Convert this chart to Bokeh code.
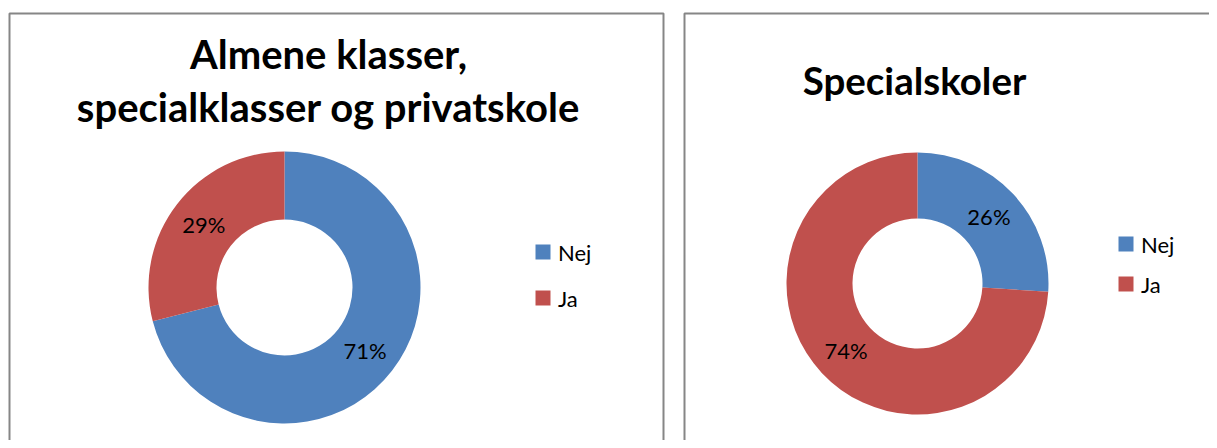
import numpy as np
from bokeh.plotting import figure
from bokeh.models import Range1d
from bokeh.core.properties import value
from bokeh.embed import file_html
from bokeh.resources import INLINE

# ---- data ----
categories = ["Nej", "Ja"]
left_values = [71, 29]
right_values = [26, 74]
colors = ["#4F81BD", "#C0504D"]
left_title = ["Almene klasser,", "specialklasser og privatskole"]
right_title = ["Specialskoler"]

FONT = "Lato"

# data x = picture x, data y = -picture y
p = figure(width=1209, height=440, x_range=Range1d(0, 1209), y_range=Range1d(-440, 0),
           output_backend="svg", toolbar_location=None, x_axis_type=None, y_axis_type=None,
           min_border=0, outline_line_color=None)
p.grid.visible = False
p.background_fill_color = "white"
p.border_fill_color = "white"

# panel borders
p.quad(left=[9, 684], right=[663, 1260], top=[-13, -13], bottom=[-480, -480],
       fill_color=None, line_color="#868686", line_width=2)


def donut(cx, cy, r_out, r_in, vals):
    fr = np.array(vals, dtype=float) / sum(vals)
    cum = np.concatenate([[0.0], np.cumsum(fr)])
    start = np.pi / 2 - 2 * np.pi * cum[:-1]
    end = np.pi / 2 - 2 * np.pi * cum[1:]
    p.annular_wedge(x=cx, y=-cy, inner_radius=r_in, outer_radius=r_out,
                    start_angle=list(start), end_angle=list(end), direction="clock",
                    fill_color=colors, line_color=None)
    mid = np.pi / 2 - 2 * np.pi * (cum[:-1] + fr / 2)
    rm = (r_out + r_in) / 2
    p.text(x=list(cx + rm * np.cos(mid)), y=list(-cy + rm * np.sin(mid)),
           text=[f"{v}%" for v in vals], text_align="center", text_baseline="middle",
           text_font=value(FONT), text_font_size="22px", text_color="black")


def legend(x0, ys):
    p.rect(x=[x0] * len(categories), y=[-y for y in ys], width=15, height=15,
           width_units="screen", height_units="screen", fill_color=colors, line_color=None)
    p.text(x=[x0 + 15] * len(categories), y=[-y for y in ys], text=categories,
           text_align="left", text_baseline="middle", text_font=value(FONT),
           text_font_size="22px", text_color="black")


donut(284, 287, 136, 68, left_values)
donut(917, 283, 131, 65, right_values)

legend(542.5, [251.5, 297.5])
legend(1125.5, [243.5, 283.5])

p.text(x=[328, 328], y=[-53, -106], text=left_title, text_align="center",
       text_baseline="alphabetic", text_font=value(FONT), text_font_style="bold",
       text_font_size="40px", text_color="black")
p.text(x=[914], y=[-79], text=right_title, text_align="center",
       text_baseline="alphabetic", text_font=value(FONT), text_font_style="bold",
       text_font_size="38.5px", text_color="black")

open("out.html", "w").write(file_html(p, INLINE))
